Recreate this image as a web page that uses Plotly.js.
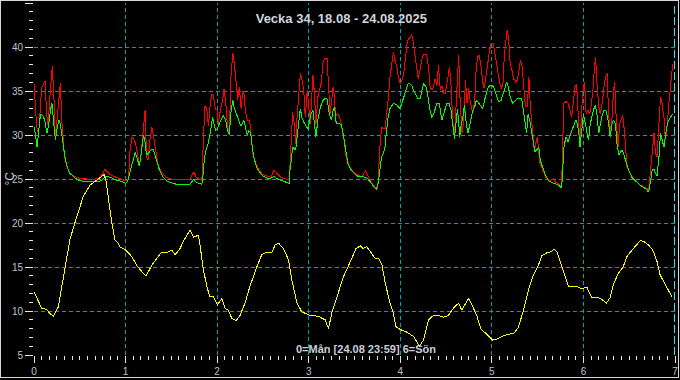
<!DOCTYPE html>
<html>
<head>
<meta charset="utf-8">
<script src="https://cdn.plot.ly/plotly-3.0.1.min.js"></script>
<style>
html,body{margin:0;padding:0;background:#000;}
#chart{width:680px;height:380px;}
#chart .xtick, #chart .ytick, #chart .shapelayer path {shape-rendering: crispEdges;}
#chart .scatterlayer .js-line {shape-rendering: crispEdges;}
</style>
</head>
<body>
<div id="chart"></div>
<script>
// ---- data (x in hours from Monday 00:00, values in °C) ----
const chartTitle = "Vecka 34, 18.08 - 24.08.2025";
const xAxisLabel = "0=Mån [24.08 23:59] 6=Sön";
const yAxisLabel = "°C";
const dayTicks = [0,1,2,3,4,5,6,7];
const tempTicks = [5,10,15,20,25,30,35,40,45];
const nowMarkerDay = 7;

const redHours = [0,0.3,0.7,1.2,1.6,2.0,2.5,2.9,3.3,3.7,4.1,4.5,4.8,5.2,5.6,6.1,6.6,6.9,7.3,7.7,8.0,8.5,9.0,9.6,10.5,12,14,16,17,18,18.6,19.2,20,21.5,23,24,
24.8,25.1,25.7,26.3,26.9,27.6,28.1,28.7,29.1,29.5,29.9,30.4,30.9,31.3,31.8,32.4,33.3,34.6,36.4,40.8,41.4,41.9,42.5,43.4,44.0,44.4,44.8,45.3,45.7,46.2,46.6,47.0,47.5,
48.0,48.3,48.9,49.4,49.8,50.3,50.7,51.2,51.6,52.1,52.5,53.0,53.4,53.8,54.3,54.7,55.0,55.4,55.9,56.5,56.8,57.4,58.1,59.0,59.9,61.2,62.1,62.9,63.8,64.7,66.0,66.9,
67.3,67.8,68.2,68.6,68.9,69.3,69.8,70.2,70.7,71.1,71.6,72.0,72.4,72.9,73.1,73.5,73.9,74.4,74.8,75.3,75.7,76.1,76.8,77.2,77.6,78.1,78.4,78.8,79.0,79.5,80.1,80.5,
81.0,81.4,81.8,82.7,83.6,84.9,85.8,86.9,87.6,88.4,89.3,89.9,90.2,90.6,91.1,91.5,92.0,92.4,92.8,93.3,93.7,94.2,94.6,95.1,95.5,96.0,96.4,96.9,97.3,97.7,98.1,98.6,
99.0,99.5,99.9,100.3,100.7,101.2,101.6,102.1,102.9,103.4,103.8,104.3,104.7,105.1,105.6,106.0,106.5,106.9,107.4,107.8,108.2,108.7,108.9,109.4,109.7,110.2,110.6,
111.0,111.3,111.7,112.2,112.6,113.1,113.5,113.9,114.3,114.6,115.0,115.5,115.9,116.3,116.7,117.2,117.6,118.0,118.5,118.9,119.4,119.8,120.3,120.7,121.1,121.6,122.0,
122.5,122.9,123.3,123.8,124.0,124.4,124.8,125.3,125.7,126.2,126.6,127.0,127.5,127.9,128.4,128.8,129.3,129.7,130.1,130.5,130.8,131.1,131.5,131.9,132.2,132.6,133.0,
133.5,134.3,135.2,136.1,136.5,137.4,138.3,138.5,138.9,139.4,140.0,140.5,140.9,141.4,141.8,142.2,142.7,143.1,143.6,144.0,144.3,144.7,145.2,145.6,146.0,146.5,146.9,
147.2,147.5,148.0,148.4,148.8,149.3,149.7,150.2,150.6,151.0,151.5,151.9,152.2,152.6,153.1,153.5,154.0,154.3,154.8,155.1,155.4,155.9,156.3,157.2,158.1,158.9,159.8,
160.7,161.1,161.6,162.0,162.5,162.9,163.3,163.8,164.2,164.6,165.1,165.5,166.0,166.4,166.9,167.2,167.4];
const redTemps = [35.8,33.0,31.0,30.0,33.5,35.4,35.8,36.1,32.5,31.0,34.0,36.8,37.8,34.5,29.6,32.0,34.5,35.9,31.5,29.0,27.5,26.6,26.0,25.6,25.3,25.1,25.0,25.0,25.1,25.6,26.1,25.8,25.5,25.2,25.0,24.8,
25.0,28.0,29.8,29.4,28.5,26.5,28.0,31.5,32.8,27.5,27.2,29.5,30.9,30.0,28.5,26.8,25.8,25.2,24.9,24.9,25.4,25.8,25.2,25.0,24.8,29.5,33.3,33.0,31.0,33.5,34.7,34.5,33.0,
32.8,31.2,33.0,33.9,35.2,33.5,31.0,30.0,36.5,39.3,38.2,36.0,34.0,35.5,33.0,35.0,34.9,32.8,31.7,31.7,30.2,27.9,26.7,26.0,25.5,25.3,25.2,26.0,25.6,25.2,25.0,24.9,
28.3,32.6,31.3,29.0,31.7,34.7,37.0,36.4,35.1,32.0,35.1,33.2,31.3,35.1,36.8,34.7,31.3,34.3,35.1,36.0,38.1,38.7,38.7,35.8,32.4,34.3,35.5,34.3,32.0,32.5,32.0,31.3,
30.2,29.0,27.5,26.4,25.8,25.4,25.2,25.9,25.2,24.6,24.1,23.9,24.8,28.3,30.9,30.7,30.7,32.0,33.9,36.6,38.1,39.4,38.5,37.7,36.6,35.8,36.2,37.0,38.5,40.2,40.9,41.1,
41.4,40.4,38.9,37.3,36.4,37.5,38.5,39.1,39.2,37.7,35.5,35.1,35.5,36.4,35.6,37.9,35.1,35.6,34.7,34.7,35.8,37.0,37.7,35.1,31.7,29.8,33.2,
37.7,39.1,33.6,30.2,31.5,36.2,33.6,35.3,33.9,33.2,32.4,33.9,37.7,38.9,39.1,37.7,36.0,35.3,37.0,38.5,39.6,40.4,40.4,39.6,38.5,37.3,36.0,
35.3,35.8,39.2,40.9,41.9,40.9,38.1,37.3,36.4,36.0,36.2,37.0,38.5,37.9,35.1,33.2,33.2,36.6,33.2,30.5,29.8,28.3,28.9,29.8,28.6,26.7,26.4,
25.8,25.0,24.8,25.0,24.7,24.4,24.2,28.3,33.6,33.8,33.6,32.8,32.0,33.9,35.5,35.8,31.3,28.6,33.2,35.5,36.0,32.4,32.8,32.4,33.2,35.1,37.7,
38.9,36.2,33.2,32.4,33.2,35.1,36.4,37.0,32.4,30.2,32.0,35.1,36.0,31.7,28.6,31.3,32.0,32.2,30.2,27.5,26.4,26.0,25.6,25.0,24.6,24.3,24.1,
23.9,23.7,26.0,28.3,30.2,27.9,27.5,31.3,34.3,33.6,32.0,29.4,31.3,33.6,35.5,37.3,38.1];

const greenHours = [0,0.35,0.8,1.2,1.7,2.3,2.8,3.4,3.9,4.3,4.7,5.2,5.6,6.1,6.5,6.9,7.4,7.6,8.1,8.7,9.3,10.5,11.8,14.4,17.1,17.9,18.8,20.1,21.5,23.2,24,
24.5,25.0,25.8,26.5,26.9,27.6,28.0,28.7,29.0,29.5,30.1,30.7,31.3,32.0,32.9,33.8,35.1,37.3,40.8,41.4,41.9,42.5,44.0,44.3,44.7,45.2,45.6,46.1,46.5,46.8,47.2,47.6,
48.1,48.5,49.1,49.7,50.3,50.7,51.2,51.6,52.1,52.5,53.0,53.6,54.2,54.7,55.0,55.4,55.9,56.3,56.8,57.2,57.7,58.5,59.8,61.6,62.9,63.8,65.1,66.9,67.1,67.8,68.6,69.1,
69.8,70.2,70.9,71.8,72.2,72.6,73.1,73.5,73.9,74.4,75.1,75.7,76.1,76.8,77.4,78.0,78.4,78.8,79.2,79.8,80.5,81.0,81.6,82.3,83.2,84.0,84.9,86.2,87.1,87.9,88.8,89.7,
90.2,90.6,91.1,91.5,92.0,92.4,92.8,93.3,94.2,95.1,95.9,96.4,97.2,98.1,98.6,99.0,99.9,100.7,101.2,101.6,102.1,102.9,103.4,103.8,104.3,104.9,105.6,106.2,106.9,
107.6,108.2,108.8,109.3,109.7,110.2,110.6,111.0,111.6,112.0,112.4,112.8,113.2,113.7,114.1,114.6,115.0,115.5,115.9,116.3,116.9,117.6,118.0,118.5,118.9,119.4,
119.8,120.4,121.1,121.8,122.4,123.0,123.6,123.9,124.4,124.8,125.5,126.1,127.0,127.8,128.2,128.6,129.1,129.5,129.9,130.4,130.8,131.3,131.7,132.3,132.7,133.2,
133.9,134.8,135.7,136.5,137.4,138.3,138.5,138.9,139.4,140.0,140.7,141.4,142.0,142.4,142.9,143.1,143.6,144.0,144.5,144.9,145.3,145.8,146.2,146.6,147.1,147.5,
148.0,148.4,148.8,149.3,150.0,150.6,151.0,151.5,151.9,152.4,152.8,153.3,153.7,154.1,154.5,155.0,155.4,155.9,156.7,157.6,158.9,160.3,161.1,161.6,162.0,162.5,
162.9,163.3,163.8,164.2,164.6,165.1,165.5,166.0,166.4,167.0,167.4];
const greenTemps = [30.9,30.2,28.6,30.2,32.4,32.2,31.7,30.2,31.3,32.8,33.6,31.3,29.4,30.9,31.7,31.3,29.8,28.6,27.5,26.4,25.7,25.2,24.8,24.7,24.7,24.9,25.3,25.2,24.9,24.7,24.5,
24.7,25.5,27.0,28.0,27.5,26.5,27.5,30.0,29.5,27.7,28.0,28.3,28.3,27.3,26.0,25.2,24.7,24.4,24.4,24.7,25.0,24.6,24.4,25.5,27.5,28.5,29.0,30.0,31.0,32.0,31.2,30.5,
30.8,31.3,31.8,32.2,31.5,30.5,30.0,32.5,34.0,33.0,32.5,31.8,31.0,31.5,31.7,30.9,30.0,30.5,30.2,28.6,27.3,26.2,25.4,25.0,25.3,25.0,24.8,24.5,26.0,28.6,28.3,30.2,
33.0,32.0,31.3,30.7,31.7,32.4,32.8,31.3,29.8,31.7,33.2,33.9,34.1,34.1,32.4,31.7,32.8,33.2,31.3,31.3,31.2,30.2,28.6,26.7,26.0,25.6,25.3,25.2,25.2,24.8,24.3,23.8,
24.5,26.0,27.5,27.9,28.6,30.5,32.0,33.0,33.6,33.4,33.0,33.6,34.7,35.9,35.8,35.6,34.7,34.1,34.1,35.1,35.9,35.3,33.9,32.8,32.0,32.6,33.6,33.6,31.7,
32.8,33.6,33.6,32.8,31.3,29.6,31.3,33.0,29.8,31.3,32.0,33.4,31.7,30.2,30.9,32.0,32.8,33.2,33.9,33.8,33.4,33.0,33.8,34.5,35.3,35.6,
35.7,35.5,34.7,33.8,33.9,34.9,35.6,36.0,35.3,34.3,33.6,33.9,34.2,34.2,33.2,31.7,30.2,32.4,31.7,30.2,29.2,28.1,28.3,28.6,27.1,26.4,
25.6,24.8,24.6,24.5,24.3,24.0,26.0,28.6,29.8,29.2,30.2,30.9,31.7,31.3,29.8,28.6,30.5,32.4,31.3,30.2,29.4,31.3,32.2,32.8,33.4,32.6,
30.2,31.3,32.0,32.8,32.7,31.3,29.8,31.3,31.7,31.3,29.0,27.7,28.0,28.3,27.9,27.1,26.6,26.0,25.2,24.8,24.3,23.9,23.5,24.8,26.0,26.1,
25.6,25.4,27.5,30.2,29.6,28.6,30.0,31.3,31.7,32.2,32.4];

const yellowHours = [0,2.0,3.3,4.2,5.1,6.4,7.3,8.1,9.0,9.4,11.2,12.9,14.7,16.4,17.8,18.4,18.9,19.5,20.4,21.2,22.1,22.5,24.1,25.6,26.9,28.2,29.3,30.0,30.9,32.2,
33.5,35.2,36.1,37.0,38.3,39.1,40.0,40.9,41.8,43.1,43.5,44.4,45.3,46.1,47.0,48.1,49.2,50.1,50.9,51.8,53.0,54.0,55.3,56.6,58.4,59.7,61.0,62.3,63.2,64.1,65.4,66.7,
67.6,68.9,70.2,72.4,74.5,76.3,77.2,78.1,79.4,81.1,82.9,84.4,85.5,86.3,87.2,88.5,89.4,90.3,91.2,92.0,93.3,94.2,94.9,96.0,97.7,99.5,101.0,102.1,103.4,104.7,
106.0,107.3,108.6,109.9,111.3,112.1,113.9,114.8,116.1,117.1,118.3,119.4,120.2,121.3,122.6,123.9,125.9,127.0,128.3,129.6,130.9,132.2,133.1,134.4,135.3,136.3,
137.1,138.4,140.1,141.4,142.3,143.2,144.0,144.9,146.2,148.0,148.9,150.0,151.0,151.9,153.2,154.4,155.4,156.7,157.8,158.9,159.8,161.1,162.2,163.3,164.1,165.4,167.2];
const yellowTemps = [12.2,10.3,10.2,9.7,9.4,10.5,12.8,14.7,16.9,18.1,20.7,23.0,24.3,24.9,25.3,25.5,24.7,22.6,20.0,18.1,17.7,17.3,16.9,16.2,15.2,14.5,14.0,14.5,15.2,16.0,
16.7,16.7,16.9,16.4,17.1,17.9,18.6,19.2,18.4,18.6,17.5,14.7,12.8,11.6,11.6,10.7,11.4,10.3,10.1,9.2,8.9,9.5,10.9,12.8,15.0,16.4,16.7,16.6,17.5,17.7,17.1,15.8,
13.5,10.9,9.9,9.5,9.4,9.0,8.0,9.9,11.6,13.9,15.6,17.1,17.4,17.1,17.3,16.6,16.0,16.0,15.2,13.3,10.9,9.7,8.2,7.9,7.6,7.1,6.0,6.7,9.0,9.5,
9.5,9.3,9.5,10.3,10.9,10.1,11.4,10.7,9.4,8.0,7.5,7.1,6.7,6.8,7.1,7.3,7.5,8.2,10.1,12.4,14.1,15.2,16.3,16.6,16.7,17.0,
16.7,15.0,12.8,12.8,12.8,12.6,12.6,12.7,11.5,11.5,11.3,10.9,11.5,13.1,14.3,15.0,16.2,16.9,17.5,18.0,17.9,17.5,16.9,15.6,14.1,13.1,11.6];

// ---- drawing ----
const toDays = h => h.map(v => v / 24);
const lineTrace = (hours, temps, color) => ({
  type: 'scatter', mode: 'lines',
  x: toDays(hours), y: temps,
  line: {color: color, width: 1, shape: 'linear'},
  hoverinfo: 'skip', showlegend: false
});

const traces = [
  lineTrace(redHours, redTemps, '#ff0000'),
  lineTrace(greenHours, greenTemps, '#00ff00'),
  lineTrace(yellowHours, yellowTemps, '#ffff00')
];

const W = 680, H = 380;
const M = {l: 34, r: 5, t: 3, b: 25, pad: 0};
const pw = W - M.l - M.r, ph = H - M.t - M.b;
const tickFont = {family: 'Liberation Sans, Arial, sans-serif', size: 10, color: '#b8c6d8'};
const gridColor = '#00a4a4';
const xMin = dayTicks[0], xMax = dayTicks[dayTicks.length - 1];
const yMin = tempTicks[0], yMax = tempTicks[tempTicks.length - 1];

// grid lines (inner ticks only), drawn through the axes' data scales
const gridShapes = [];
dayTicks.filter(d => d > xMin && d < xMax).forEach(d => gridShapes.push({
  type: 'line', xref: 'x', yref: 'y', x0: d, x1: d, y0: yMin, y1: yMax, layer: 'below',
  line: {color: gridColor, width: 1, dash: '4px,3px'}
}));
tempTicks.filter(t => t > yMin && t < yMax).forEach(t => gridShapes.push({
  type: 'line', xref: 'x', yref: 'y', x0: xMin, x1: xMax, y0: t, y1: t, layer: 'below',
  line: {color: gridColor, width: 1, dash: '4px,3px'}
}));

const layout = {
  width: W, height: H, margin: M,
  paper_bgcolor: '#000000', plot_bgcolor: '#000000',
  showlegend: false,
  title: {
    text: '<b>' + chartTitle + '</b>',
    font: {family: 'Liberation Sans, Arial, sans-serif', size: 13, color: '#d0d6de'},
    x: 0.502, xref: 'container', xanchor: 'center',
    y: 1 - 18 / H, yref: 'container', yanchor: 'middle'
  },
  xaxis: {
    range: [xMin, xMax],
    tickmode: 'array', tickvals: dayTicks, ticktext: dayTicks.map(String),
    ticks: 'outside', ticklen: 7, tickwidth: 1, tickcolor: '#e6e6e6',
    tickfont: tickFont, showgrid: false,
    zeroline: false, showline: false, fixedrange: true,
    minor: {dtick: 1 / 12, tick0: 0, ticks: 'outside', ticklen: 4, tickwidth: 1, tickcolor: '#e6e6e6', showgrid: false}
  },
  yaxis: {
    range: [yMin, yMax],
    tickmode: 'array', tickvals: tempTicks, ticktext: tempTicks.map(String),
    ticks: 'outside', ticklen: 8, tickwidth: 1, tickcolor: '#e6e6e6',
    tickfont: tickFont, showgrid: false,
    zeroline: false, showline: false, fixedrange: true,
    minor: {dtick: 1, tick0: 0, ticks: 'outside', ticklen: 4, tickwidth: 1, tickcolor: '#e6e6e6', showgrid: false}
  },
  annotations: [
    {
      text: '<b>' + xAxisLabel + '</b>', showarrow: false,
      xref: 'paper', yref: 'paper',
      x: (366 - M.l) / pw, y: (H - M.b - 349) / ph,
      xanchor: 'center', yanchor: 'middle',
      font: {family: 'Liberation Sans, Arial, sans-serif', size: 11, color: '#c8d0dc'}
    },
    {
      text: yAxisLabel, showarrow: false, textangle: -90,
      xref: 'paper', yref: 'paper',
      x: (9.5 - M.l) / pw, y: (H - M.b - 179) / ph,
      xanchor: 'center', yanchor: 'middle',
      font: {family: 'Liberation Sans, Arial, sans-serif', size: 12, color: '#c8d0dc'}
    }
  ],
  shapes: gridShapes.concat([
    {
      type: 'line', xref: 'x', yref: 'y',
      x0: nowMarkerDay, x1: nowMarkerDay, y0: yMin, y1: yMax,
      line: {color: '#40dcf4', width: 2, dash: '8px,3px'}, layer: 'above'
    },
    {
      type: 'rect', xref: 'paper', yref: 'paper', layer: 'above',
      x0: (0.5 - M.l) / pw, x1: (678.5 - M.l) / pw,
      y0: (H - M.b - 377.5) / ph, y1: (H - M.b - 0.5) / ph,
      line: {color: '#d8d8d8', width: 1}, fillcolor: 'rgba(0,0,0,0)'
    }
  ])
};

Plotly.newPlot('chart', traces, layout, {displayModeBar: false, staticPlot: true});
</script>
</body>
</html>
